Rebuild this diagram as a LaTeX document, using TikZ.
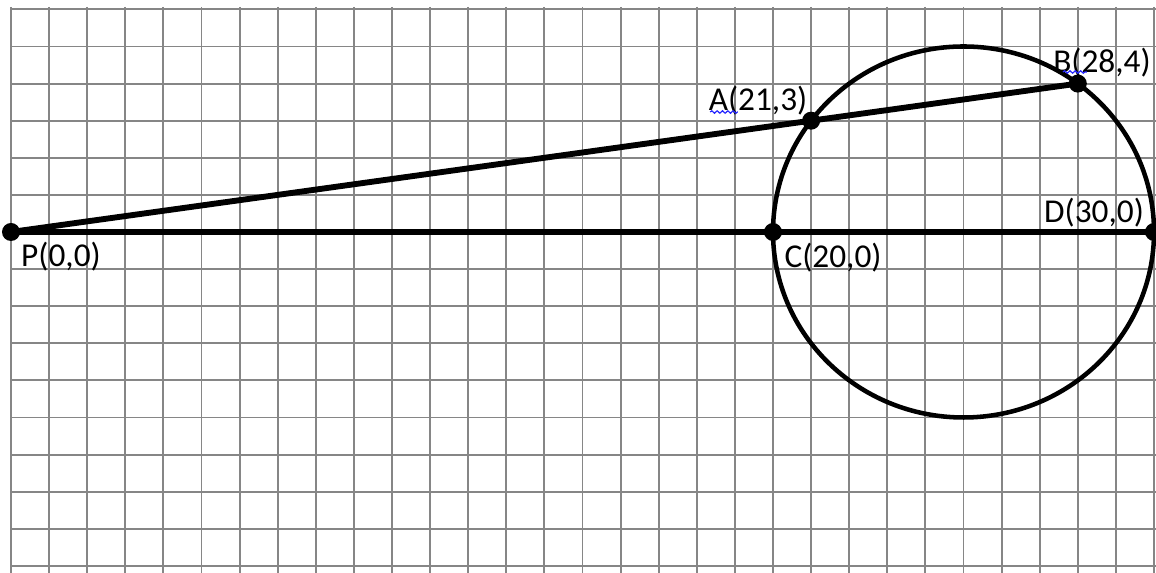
\documentclass[tikz,border=0pt]{standalone}
\usepackage{fontspec}
\setmainfont{Carlito}
\usetikzlibrary{decorations.pathmorphing}
\begin{document}
\begin{tikzpicture}[x=28.575pt,y=27.825pt,
  gridline/.style={draw=gray!95,line width=1.4pt},
  heavy/.style={draw=black,line width=4.4pt},
  ring/.style={draw=black,line width=3.4pt},
  dot/.style={circle,fill=black,inner sep=0pt,minimum size=13.5pt},
  lbl/.style={inner sep=0pt,font=\fontsize{25pt}{30pt}\selectfont},
  squig/.style={draw=blue!85,line width=0.9pt,decorate,decoration={snake,amplitude=0.9pt,segment length=4pt}}]
\useasboundingbox[fill=white] (-0.2887,-9.191) rectangle (30.052,6.253);
% grid
\foreach \i in {0,...,30} {\draw[gridline] (\i,6.065) -- (\i,-9.191);}
\foreach \j in {-9,...,6} {\draw[gridline] (0,\j) -- (30.052,\j);}
% points
\coordinate (P) at (0,0);
\coordinate (A) at (21,3);
\coordinate (B) at (28,4);
\coordinate (C) at (20,0);
\coordinate (D) at (30,0);
\coordinate (O) at (25,0);
% circle
\draw[ring] (O) ellipse [x radius=142.875pt, y radius=139.125pt];
% lines
\draw[heavy] (P) -- (B);
\draw[heavy] (P) -- (D);
% dots
\node[dot] (dP) at (P) {};
\node[dot] (dA) at (A) {};
\node[dot] (dB) at (B) {};
\node[dot] (dC) at (C) {};
\node[dot] (dD) at (D) {};
% labels
\node[lbl] (lP) at (1.312,-0.674) {P(0,0)};
\node[lbl] (lC) at (21.575,-0.70) {C(20,0)};
\node[lbl] (lD) at (28.425,0.512) {D(30,0)};
\node[lbl] (lA) at (19.606,3.531) {A(21,3)};
\node[lbl] (lB) at (28.635,4.555) {B(28,4)};
% spell-check squiggles
\coordinate (sA1) at (18.35,3.234); \coordinate (sA2) at (19.08,3.234);
\coordinate (sB1) at (27.61,4.313); \coordinate (sB2) at (28.24,4.313);
\draw[squig] (sA1) -- (sA2);
\draw[squig] (sB1) -- (sB2);
\end{tikzpicture}
\end{document}
